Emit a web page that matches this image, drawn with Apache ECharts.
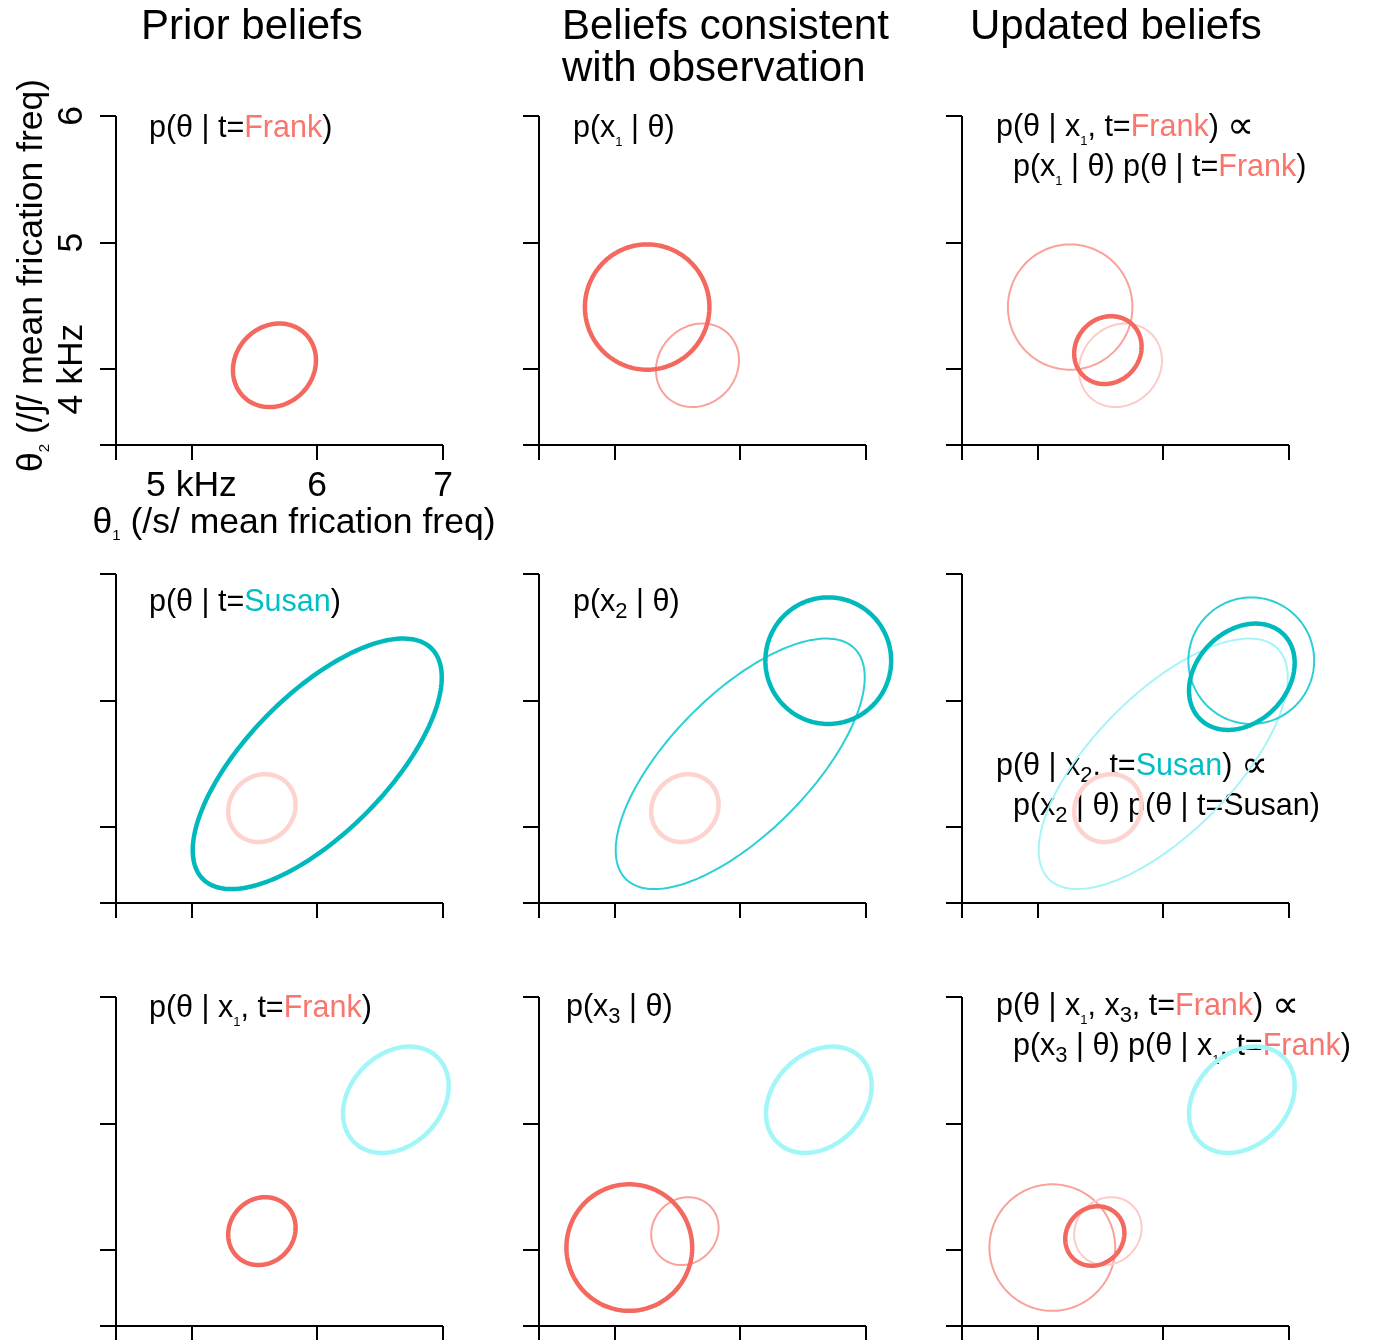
<!DOCTYPE html>
<html>
<head>
<meta charset="utf-8">
<title>Belief updating</title>
<script src="https://cdn.jsdelivr.net/npm/echarts@6/dist/echarts.min.js"></script>
<style>
  html, body { margin: 0; padding: 0; background: #fff; }
  #chart { width: 1373px; height: 1340px; }
</style>
</head>
<body>
<div id="chart"></div>
<script>
// ellipse parameters: [mean θ1, mean θ2, sd θ1, sd θ2, correlation]
var priorFrank = [5.66, 4.03, 0.33, 0.33, 0.12];
var likX1 = [5.26, 4.49, 0.495, 0.495, 0];
var postFrankX1 = [5.56, 4.15, 0.268, 0.268, 0.1];
var priorSusan = [6.0, 4.5, 0.99, 0.99, 0.69];
var likX2 = [6.70, 5.315, 0.5, 0.5, 0];
var postSusanX2 = [6.625, 5.188, 0.42, 0.42, 0.26];
var likX3 = [5.118, 4.02, 0.5, 0.5, 0];
var postFrankX1X3 = [5.456, 4.111, 0.235, 0.235, 0.1];

// axes
var xRange = [4.4, 7];
var yRange = [3.4, 6];
var xTicks = [4.4, 5, 6, 7];
var yTicks = [3.4, 4, 5, 6];
var xLabels = [5, 6, 7];
var yLabels = [4, 5, 6];

var FRANK = '#F8766D';
var SUSAN = '#00BFC4';
var font = "'Liberation Sans', Arial, sans-serif";

var styles = {
    redThick:  { stroke: '#F4695F', lineWidth: 4.5 },
    redThin:   { stroke: '#F9A29C', lineWidth: 2 },
    redFaint:  { stroke: '#FCCBC7', lineWidth: 2 },
    pinkThick: { stroke: '#FDD3CF', lineWidth: 4.5 },
    tealThick: { stroke: '#00B9BD', lineWidth: 4.5 },
    tealThin:  { stroke: '#2BD0D6', lineWidth: 2 },
    cyanFaint: { stroke: '#A6F4F6', lineWidth: 2 },
    cyanThick: { stroke: '#A3F6F8', lineWidth: 4.5 }
};

// what each panel shows, row by row
var panels = [
    [[priorFrank, 'redThick']],
    [[priorFrank, 'redThin'], [likX1, 'redThick']],
    [[likX1, 'redThin'], [priorFrank, 'redFaint'], [postFrankX1, 'redThick']],
    [[postFrankX1, 'pinkThick'], [priorSusan, 'tealThick']],
    [[postFrankX1, 'pinkThick'], [priorSusan, 'tealThin'], [likX2, 'tealThick']],
    [[postFrankX1, 'pinkThick'], [priorSusan, 'cyanFaint'], [likX2, 'tealThin'], [postSusanX2, 'tealThick']],
    [[postSusanX2, 'cyanThick'], [postFrankX1, 'redThick']],
    [[postSusanX2, 'cyanThick'], [postFrankX1, 'redThin'], [likX3, 'redThick']],
    [[postSusanX2, 'cyanThick'], [likX3, 'redThin'], [postFrankX1, 'redFaint'], [postFrankX1X3, 'redThick']]
];

var colLeft = [116, 539, 962];
var rowTop = [116, 574, 997];
var panelW = 327, panelH = 329;

var notes = [
    { x: 149, y: 129, text: '{k|p(θ | t=}{f|Frank}{k|)}' },
    { x: 573, y: 129, text: '{k|p(x}{a|1}{k| | θ)}' },
    { x: 996, y: 128, text: '{k|p(θ | x}{a|1}{k|, t=}{f|Frank}{k|) }{p|∝}\n{k|  p(x}{a|1}{k| | θ) p(θ | t=}{f|Frank}{k|)}' },
    { x: 149, y: 603, text: '{k|p(θ | t=}{s|Susan}{k|)}' },
    { x: 573, y: 603, text: '{k|p(x}{b|2}{k| | θ)}' },
    { x: 996, y: 767, text: '{k|p(θ | x}{b|2}{k|, t=}{s|Susan}{k|) }{p|∝}\n{k|  p(x}{b|2}{k| | θ) p(θ | t=Susan)}' },
    { x: 149, y: 1009, text: '{k|p(θ | x}{a|1}{k|, t=}{f|Frank}{k|)}' },
    { x: 566, y: 1008, text: '{k|p(x}{b|3}{k| | θ)}' },
    { x: 996, y: 1007, text: '{k|p(θ | x}{a|1}{k|, x}{b|3}{k|, t=}{f|Frank}{k|) }{p|∝}\n{k|  p(x}{b|3}{k| | θ) p(θ | x}{a|1}{k|, t=}{f|Frank}{k|)}' }
];

var richText = {
    k: { fontSize: 30.5, fontFamily: font, fill: '#000', lineHeight: 40 },
    f: { fontSize: 30.5, fontFamily: font, fill: FRANK, lineHeight: 40 },
    s: { fontSize: 30.5, fontFamily: font, fill: SUSAN, lineHeight: 40 },
    p: { fontSize: 38, fontFamily: font, fill: '#000', lineHeight: 40 },
    a: { fontSize: 13, fontFamily: font, fill: '#000', lineHeight: 22, verticalAlign: 'bottom' },
    b: { fontSize: 22, fontFamily: font, fill: '#000', lineHeight: 26, verticalAlign: 'bottom' }
};

function ellipseRenderer(style) {
    return function (params, api) {
        var mx = api.value(0), my = api.value(1);
        var sx = api.value(2), sy = api.value(3), rho = api.value(4);
        var pts = [];
        for (var i = 0; i < 180; i++) {
            var t = i / 180 * 2 * Math.PI;
            pts.push(api.coord([
                mx + sx * Math.cos(t),
                my + sy * (rho * Math.cos(t) + Math.sqrt(1 - rho * rho) * Math.sin(t))
            ]));
        }
        return {
            type: 'polygon',
            shape: { points: pts },
            style: { fill: 'none', stroke: style.stroke, lineWidth: style.lineWidth }
        };
    };
}

var grids = [], xAxes = [], yAxes = [], series = [], graphics = [];
var lineStyle = { color: '#000', width: 2, cap: 'butt' };
var nameRich = {
    m: { fontSize: 35.5, fontFamily: font, color: '#000', lineHeight: 40 },
    sub: { fontSize: 15, fontFamily: font, color: '#000', lineHeight: 24, verticalAlign: 'bottom' }
};

panels.forEach(function (layers, i) {
    var r = Math.floor(i / 3), c = i % 3;
    var first = i === 0;
    grids.push({ left: colLeft[c], top: rowTop[r], width: panelW, height: panelH });
    xAxes.push({
        type: 'value', gridIndex: i, min: xRange[0], max: xRange[1],
        axisLine: { show: true, onZero: false, lineStyle: lineStyle },
        axisTick: { show: true, length: 15, customValues: xTicks, lineStyle: lineStyle },
        axisLabel: {
            show: first, customValues: xLabels, margin: 23,
            fontSize: 35.5, fontFamily: font, color: '#000',
            formatter: function (v) { return v === 5 ? '5 kHz' : String(v); }
        },
        splitLine: { show: false },
        name: first ? '{m|θ}{sub|1}{m| (/s/ mean frication freq)}' : '',
        nameLocation: 'middle', nameGap: 58,
        nameTextStyle: { padding: [0, 0, 0, 29], rich: nameRich }
    });
    yAxes.push({
        type: 'value', gridIndex: i, min: yRange[0], max: yRange[1],
        axisLine: { show: true, onZero: false, lineStyle: lineStyle },
        axisTick: { show: true, length: 16, customValues: yTicks, lineStyle: lineStyle },
        axisLabel: {
            show: first, customValues: yLabels, margin: 26, rotate: 90,
            fontSize: 35.5, fontFamily: font, color: '#000',
            formatter: function (v) { return v === 4 ? '4 kHz' : String(v); }
        },
        splitLine: { show: false },
        name: first ? '{m|θ}{sub|2}{m| (/ʃ/ mean frication freq)}' : '',
        nameLocation: 'middle', nameGap: 64,
        nameTextStyle: { padding: [0, 0, 0, 10], rich: nameRich }
    });
    layers.forEach(function (layer) {
        series.push({
            type: 'custom', xAxisIndex: i, yAxisIndex: i,
            coordinateSystem: 'cartesian2d',
            encode: { x: 0, y: 1 },
            data: [layer[0]],
            renderItem: ellipseRenderer(styles[layer[1]]),
            silent: true, clip: false
        });
    });
});

notes.forEach(function (n) {
    graphics.push({
        type: 'text', x: n.x, y: n.y - 20,
        style: { text: n.text, rich: richText, verticalAlign: 'top', align: 'left' }
    });
});

var titleStyle = { fontSize: 42, fontFamily: font, fill: '#000', lineHeight: 42 };
graphics.push({ type: 'text', x: 141, y: 6, style: Object.assign({ text: 'Prior beliefs', verticalAlign: 'top' }, titleStyle) });
graphics.push({ type: 'text', x: 562, y: 6, style: Object.assign({ text: 'Beliefs consistent\nwith observation', verticalAlign: 'top' }, titleStyle) });
graphics.push({ type: 'text', x: 970, y: 6, style: Object.assign({ text: 'Updated beliefs', verticalAlign: 'top' }, titleStyle) });

var chart = echarts.init(document.getElementById('chart'));
chart.setOption({
    animation: false,
    backgroundColor: '#fff',
    grid: grids,
    xAxis: xAxes,
    yAxis: yAxes,
    series: series,
    graphic: graphics
});
</script>
</body>
</html>
